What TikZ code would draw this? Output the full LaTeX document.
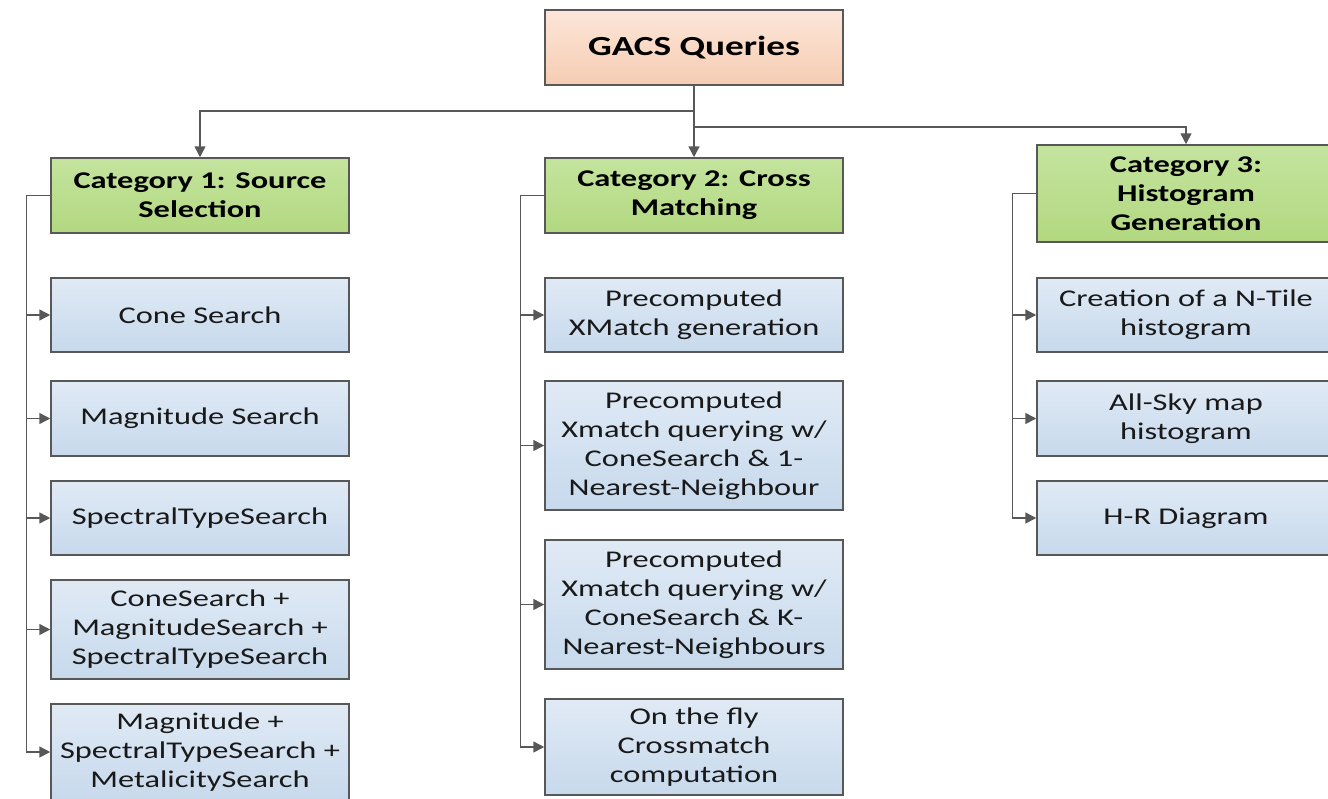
\documentclass[tikz,border=0pt]{standalone}
\usepackage{fontspec}
\setmainfont{Carlito}[FakeStretch=1.35]
\usetikzlibrary{arrows.meta}

\definecolor{peachtop}{RGB}{252,230,217}
\definecolor{peachbot}{RGB}{246,204,178}
\definecolor{greentop}{RGB}{196,228,158}
\definecolor{greenbot}{RGB}{178,216,128}
\definecolor{bluetop}{RGB}{224,234,245}
\definecolor{bluebot}{RGB}{199,217,236}
\definecolor{edgegray}{RGB}{88,88,88}

\tikzset{
    box/.style={draw=edgegray, line width=0.75pt, minimum width=149pt, align=center, inner sep=2pt,
        font=\fontsize{12}{14.5}\selectfont},
    rootbox/.style={box, top color=peachtop, bottom color=peachbot, font=\bfseries\fontsize{13.8}{16}\selectfont},
    catbox/.style={box, top color=greentop, bottom color=greenbot, font=\bfseries\fontsize{12}{14.5}\selectfont},
    leafbox/.style={box, top color=bluetop, bottom color=bluebot, text=black!90},
    link/.style={draw=edgegray, line width=0.75pt, -{Triangle[length=5.5pt,width=5.5pt]}},
}

\begin{document}
\begin{tikzpicture}[x=0.5pt, y=-0.5pt]

        \useasboundingbox (0,0) rectangle (1328,798);

        % root and categories
        \node[rootbox, minimum height=37.5pt] (root) at (694, 47.5) {GACS Queries};
        \node[catbox, minimum height=37.5pt] (cat1) at (200, 195.5) {Category 1: Source\\Selection};
        \node[catbox, minimum height=37.5pt] (cat2) at (694, 195.5) {Category 2: Cross\\Matching};
        \node[catbox, minimum height=48.5pt] (cat3) at (1186, 193.5) {Category 3:\\Histogram\\Generation};

        % category 1 leaves
        \node[leafbox, minimum height=37pt]   (cone)    at (200, 315)   {Cone Search};
        \node[leafbox, minimum height=37.5pt] (mag)     at (200, 418.5) {Magnitude Search};
        \node[leafbox, minimum height=37pt]   (spec)    at (200, 518)   {SpectralTypeSearch};
        \node[leafbox, minimum height=49.5pt] (combo)   at (200, 629.5) {ConeSearch +\\MagnitudeSearch +\\SpectralTypeSearch};
        \node[leafbox, minimum height=48pt]   (metal)   at (200, 752)   {Magnitude +\\SpectralTypeSearch +\\MetalicitySearch};

        % category 2 leaves
        \node[leafbox, minimum height=37pt]   (xgen)    at (694, 315)   {Precomputed\\XMatch generation};
        \node[leafbox, minimum height=64.5pt] (onenn)   at (694, 445.5) {Precomputed\\Xmatch querying w/\\ConeSearch \& 1-\\Nearest-Neighbour};
        \node[leafbox, minimum height=64.5pt] (knn)     at (694, 604.5) {Precomputed\\Xmatch querying w/\\ConeSearch \& K-\\Nearest-Neighbours};
        \node[leafbox, minimum height=48pt]   (fly)     at (694, 747)   {On the fly\\Crossmatch\\computation};

        % category 3 leaves
        \node[leafbox, minimum height=37pt]   (ntile)   at (1186, 315)   {Creation of a N-Tile\\histogram};
        \node[leafbox, minimum height=37.5pt] (allsky)  at (1186, 418.5) {All-Sky map\\histogram};
        \node[leafbox, minimum height=37pt]   (hr)      at (1186, 518)   {H-R Diagram};

        % draw arrows from root
        \draw[link] (root.south) -- (cat2.north);
        \draw[link] (root.south) -- ++(0,25) -| (cat1.north);
        \draw[link] (root.south) -- ++(0,41) -| (cat3.north);

        % trunks
        \draw[link] (cat1.west) -- ++(-24,0) coordinate (t1) |- (metal.west);
        \draw[link] (cat2.west) -- ++(-24,0) coordinate (t2) |- (fly.west);
        \draw[link] (cat3.west) -- ++(-24,0) coordinate (t3) |- (hr.west);

        \draw[link] (t1 |- cone.west)  -- (cone.west);
        \draw[link] (t1 |- mag.west)   -- (mag.west);
        \draw[link] (t1 |- spec.west)  -- (spec.west);
        \draw[link] (t1 |- combo.west) -- (combo.west);

        \draw[link] (t2 |- xgen.west)  -- (xgen.west);
        \draw[link] (t2 |- onenn.west) -- (onenn.west);
        \draw[link] (t2 |- knn.west)   -- (knn.west);

        \draw[link] (t3 |- ntile.west)  -- (ntile.west);
        \draw[link] (t3 |- allsky.west) -- (allsky.west);
    \end{tikzpicture}
\end{document}
